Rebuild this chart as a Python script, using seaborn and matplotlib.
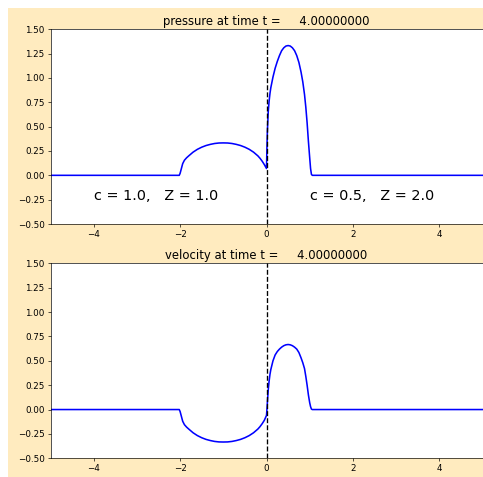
import matplotlib
matplotlib.use("Agg")
import matplotlib.pyplot as plt
import seaborn as sns
import pandas as pd
from matplotlib.patches import Rectangle

# ---- data ----
x_vals = [-5.0, -2.05, -2.02, -2.0, -1.97, -1.94, -1.9, -1.85, -1.8, -1.7, -1.6, -1.5, -1.4, -1.3, -1.2,
          -1.1, -1.0, -0.9, -0.8, -0.7, -0.6, -0.5, -0.4, -0.3, -0.2, -0.15, -0.1, -0.05,
          0.0, 0.01, 0.02, 0.04, 0.06, 0.08, 0.1, 0.15, 0.2, 0.25, 0.3, 0.35, 0.4, 0.45, 0.5,
          0.55, 0.6, 0.65, 0.7, 0.75, 0.8, 0.84, 0.88, 0.91, 0.94, 0.97, 1.0, 1.02, 1.04, 1.06, 5.0]
pressure = [0.0, 0.0, 0.0, 0.02, 0.07, 0.12, 0.155, 0.18, 0.20, 0.238, 0.267, 0.289, 0.306, 0.318, 0.327,
            0.332, 0.333, 0.332, 0.327, 0.318, 0.306, 0.289, 0.267, 0.238, 0.20, 0.175, 0.145, 0.11,
            0.07, 0.28, 0.45, 0.65, 0.76, 0.84, 0.90, 1.01, 1.10, 1.17, 1.23, 1.28, 1.31, 1.328, 1.333,
            1.328, 1.31, 1.28, 1.23, 1.16, 1.06, 0.96, 0.83, 0.70, 0.54, 0.35, 0.18, 0.07, 0.01, 0.0, 0.0]
velocity = [0.0, 0.0, 0.0, -0.02, -0.07, -0.12, -0.155, -0.18, -0.20, -0.238, -0.267, -0.289, -0.306, -0.318, -0.327,
            -0.332, -0.333, -0.332, -0.327, -0.318, -0.306, -0.289, -0.267, -0.238, -0.20, -0.175, -0.145, -0.11,
            -0.06, 0.0, 0.07, 0.20, 0.29, 0.36, 0.41, 0.50, 0.56, 0.595, 0.62, 0.64, 0.655, 0.664, 0.667,
            0.664, 0.655, 0.64, 0.62, 0.585, 0.53, 0.48, 0.42, 0.34, 0.25, 0.15, 0.07, 0.03, 0.005, 0.0, 0.0]
titles = ["pressure at time t =     4.00000000", "velocity at time t =     4.00000000"]
labels = ["c = 1.0,   Z = 1.0", "c = 0.5,   Z = 2.0"]
label_x = [-4.0, 1.0]
label_y = -0.25
interface_x = 0.0

df = pd.DataFrame({"x": x_vals, "pressure": pressure, "velocity": velocity})

bg = "#ffebbf"
W, H = 483, 477
dpi = 60
fig = plt.figure(figsize=(W / dpi, H / dpi), dpi=dpi, facecolor="white")
fig.patches.append(Rectangle((7.5 / W, 0), 1, 1 - 7.5 / H, transform=fig.transFigure,
                             facecolor=bg, edgecolor="none", zorder=-10))

left = 50.5 / W
width = 432 / W
ax1 = fig.add_axes([left, 1 - 224 / H, width, (224 - 29.3) / H])
ax2 = fig.add_axes([left, 1 - 458.3 / H, width, (458.3 - 263.3) / H])

for ax, col, title in zip([ax1, ax2], ["pressure", "velocity"], titles):
    sns.lineplot(data=df, x="x", y=col, ax=ax, color="blue", linewidth=1.9)
    ax.plot([interface_x, interface_x], [-0.5, 1.5], "k--", linewidth=1.6)
    ax.set_xlim(-5, 5)
    ax.set_ylim(-0.5, 1.5)
    ax.set_title(title, fontsize=14, pad=5)
    ax.set_xlabel("")
    ax.set_ylabel("")
    ax.set_xticks([-4, -2, 0, 2, 4])
    ax.set_yticks([-0.5, -0.25, 0, 0.25, 0.5, 0.75, 1.0, 1.25, 1.5])
    ax.tick_params(labelsize=10.5)

for lx, lab in zip(label_x, labels):
    ax1.text(lx, label_y, lab, fontsize=17.28)

fig.savefig("out.png", dpi=dpi, facecolor=fig.get_facecolor())
